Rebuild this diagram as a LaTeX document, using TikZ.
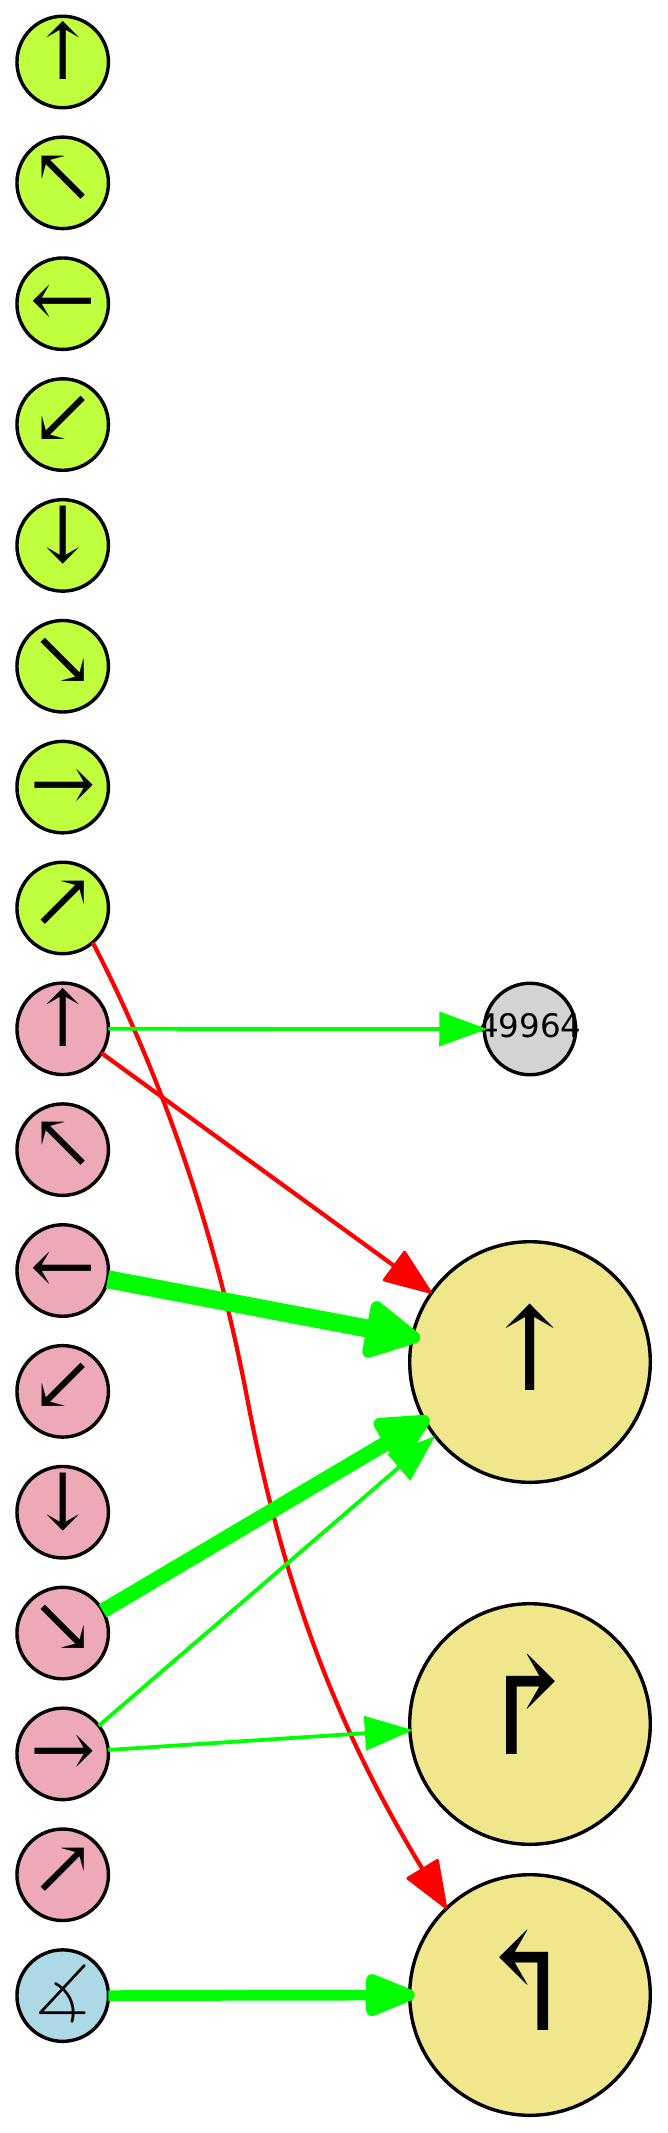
\documentclass[tikz,border=0pt]{standalone}
\usepackage{fontspec}
\setmainfont{DejaVu Sans}
\newfontfamily\arrowfont{DejaVu Serif}
\newfontfamily\anglefont{Latin Modern Math}
\usetikzlibrary{arrows.meta}
\definecolor{limefill}{HTML}{C0FF3E}
\definecolor{pinkfill}{HTML}{EEA9B8}
\definecolor{bluefill}{HTML}{ADD8E6}
\definecolor{khakifill}{HTML}{F0E68C}
\definecolor{grayfill}{HTML}{D3D3D3}
\newcommand{\smallglyph}[2][-19.3pt]{\raisebox{#1}[0pt][0pt]{\makebox[0pt]{\fontsize{78}{78}\arrowfont #2}}}
\newcommand{\bigglyph}[1]{\raisebox{-28.4pt}[0pt][0pt]{\makebox[0pt]{\fontsize{116}{116}\arrowfont #1}}}
\newcommand{\turnglyph}[2]{\raisebox{#1}[0pt][0pt]{\makebox[0pt]{\fontsize{135}{135}\arrowfont #2}}}
\tikzset{
    qubit/.style={draw, circle, line width=3.4pt, minimum size=91.5pt, inner sep=0pt, outer sep=0pt},
    target/.style={draw, circle, line width=3.4pt, minimum size=240.6pt, inner sep=0pt, outer sep=0pt, fill=khakifill},
    thin edge/.style={green, line width=3.8pt, -{Triangle[length=48pt, width=34pt]}},
    red edge/.style={red, line width=4.2pt, -{Triangle[round, length=50pt, width=38pt, line width=3pt]}},
    thick edge/.style n args={3}{green, line width=#1, -{Triangle[round, length=#2, width=#3, line width=12pt]}}
}
\begin{document}
\begin{tikzpicture}[node distance=120.85pt]
    \useasboundingbox (0,0) rectangle (667pt,-2133pt);
    % left column
    \node[qubit, fill=limefill] (L0) at (62.7pt,-62pt) {\smallglyph[-18pt]{↑}};
    \node[qubit, fill=limefill, below of=L0] (L1) {\smallglyph{↖}};
    \node[qubit, fill=limefill, below of=L1] (L2) {\smallglyph[-23pt]{←}};
    \node[qubit, fill=limefill, below of=L2] (L3) {\smallglyph{↙}};
    \node[qubit, fill=limefill, below of=L3] (L4) {\smallglyph[-17pt]{↓}};
    \node[qubit, fill=limefill, below of=L4] (L5) {\smallglyph{↘}};
    \node[qubit, fill=limefill, below of=L5] (L6) {\smallglyph[-23pt]{→}};
    \node[qubit, fill=limefill, below of=L6] (L7) {\smallglyph{↗}};
    \node[qubit, fill=pinkfill, below of=L7] (P0) {\smallglyph[-18pt]{↑}};
    \node[qubit, fill=pinkfill, below of=P0] (P1) {\smallglyph{↖}};
    \node[qubit, fill=pinkfill, below of=P1] (P2) {\smallglyph[-23pt]{←}};
    \node[qubit, fill=pinkfill, below of=P2] (P3) {\smallglyph{↙}};
    \node[qubit, fill=pinkfill, below of=P3] (P4) {\smallglyph[-17pt]{↓}};
    \node[qubit, fill=pinkfill, below of=P4] (P5) {\smallglyph{↘}};
    \node[qubit, fill=pinkfill, below of=P5] (P6) {\smallglyph[-23pt]{→}};
    \node[qubit, fill=pinkfill, below of=P6] (P7) {\smallglyph{↗}};
    \node[qubit, fill=bluefill, below of=P7] (M) {\raisebox{-20pt}[0pt][0pt]{\makebox[0pt]{\fontsize{70}{70}\anglefont ∡}}};

    % right column
    \node[qubit, fill=grayfill] (N) at (530pt,-1029pt) {\raisebox{-8pt}[0pt][0pt]{\makebox[0pt]{\fontsize{32.5}{33}\selectfont 49964}}};
    \node[target] (U) at (530pt,-1362pt) {\bigglyph{↑}};
    \node[target] (R) at (530pt,-1724pt) {\turnglyph{-30pt}{↱}};
    \node[target] (B) at (530pt,-1995pt) {\turnglyph{-35pt}{\hspace*{-10pt}↰}};

    % red curve runs under the others
    \coordinate (mid) at (247.5pt,-1400pt);
    \draw[red, line width=4.2pt] (L7.-49) .. controls (167pt,-1086pt) and (218pt,-1244pt) .. (mid);
    \draw[red edge] (mid) .. controls (284pt,-1590pt) and (338pt,-1730pt) .. (B.134.7);

    \draw[red edge] (P0.-32) -- (U.145.7);
    \draw[thin edge, shorten >=-3pt] (P0.0) -- (N.180);
    \draw[thick edge={18pt}{62pt}{62pt}, shorten >=-8pt] (P2.-11) -- (U.168);
    \draw[thick edge={15pt}{60pt}{56pt}, shorten >=-5pt] (P5.29) -- (U.209.7);
    \draw[thin edge] (P6.38) -- (U.218.7);
    \draw[thin edge, shorten >=-3pt] (P6.5) -- (R.183.3);
    \draw[thick edge={10.7pt}{60pt}{44pt}, shorten >=-5pt] (M.0) -- (B.180);
\end{tikzpicture}
\end{document}
